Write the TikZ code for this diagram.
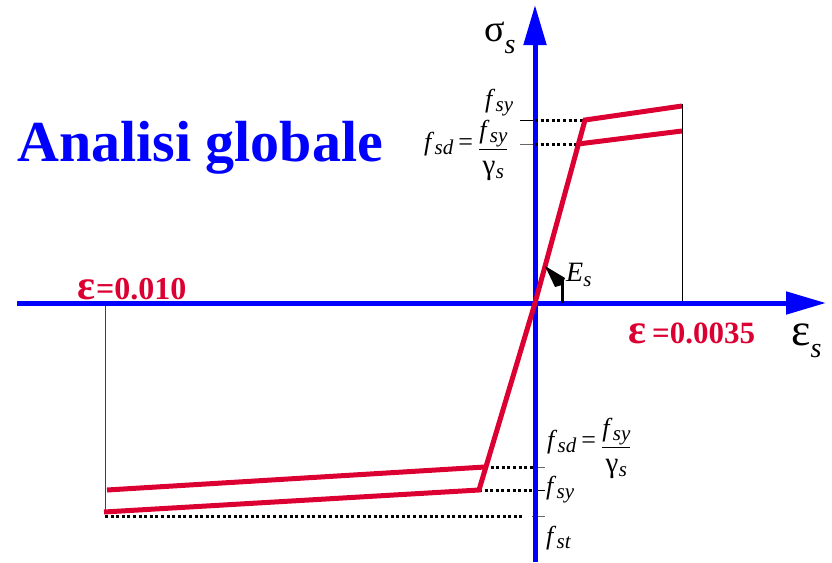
\documentclass[tikz,border=0pt]{standalone}
\usepackage{fontspec}
\setmainfont{Liberation Serif}
\usetikzlibrary{arrows.meta}
\definecolor{cred}{RGB}{220,0,50}
\definecolor{cblue}{RGB}{0,0,255}
\newcommand{\subsz}{\fontsize{21}{21}\selectfont}
\newcommand{\ff}[1]{\mbox{\textit{f}\kern0.3pt\raisebox{-4.5pt}{\subsz\textit{#1}}}}
\newcommand{\gam}{\mbox{\rule{0pt}{24pt}{\fontsize{29}{29}\selectfont γ}\kern0.3pt\raisebox{-4.5pt}{\subsz\textit{s}}}}
\newcommand{\feq}{\ff{sd}\kern5pt=\kern5pt\raisebox{-5pt}{$\displaystyle\frac{\ff{sy}}{\gam}$}}
\begin{document}
\begin{tikzpicture}[x=1pt,y=-1pt,
  axis/.style={cblue, line width=5pt, -{Triangle[length=40pt,width=22pt]}},
  redl/.style={cred, line width=5pt, line join=miter},
  thinl/.style={black, line width=0.9pt},
  dotl/.style={black, line width=3pt, dash pattern=on 3pt off 2.6pt},
  lab/.style={inner sep=0pt, anchor=base west, font=\fontsize{26}{28}\selectfont},
  redlab/.style={inner sep=0pt, anchor=base west, text=cred, font=\bfseries}]
\useasboundingbox (0,0) rectangle (832,562);
% coordinates
\coordinate (O) at (535,303);
\coordinate (xL) at (17,303);
\coordinate (xR) at (826,303);
\coordinate (yB) at (535,562);
\coordinate (yT) at (535,5);
\coordinate (kU1) at (585,120);
\coordinate (eU1) at (682,106);
\coordinate (kU2) at (578,144);
\coordinate (eU2) at (682,131);
\coordinate (kL1) at (485,467);
\coordinate (eL1) at (107,490);
\coordinate (kL2) at (479,490);
\coordinate (eL2) at (104,512);
\coordinate (aU1) at (535,120);
\coordinate (aU2) at (535,144);
\coordinate (aL1) at (535,467);
\coordinate (aL2) at (535,490);
\coordinate (tU1) at (520,120);
\coordinate (tU2) at (520,144);
\coordinate (tL1) at (545,467);
\coordinate (tL2) at (545,490);
\coordinate (tL3a) at (532,516);
\coordinate (tL3) at (545,516);
\coordinate (dL3a) at (105,516);
\coordinate (dL3b) at (523,516);
\coordinate (vR) at (682,104);
\coordinate (vRb) at (682,303);
\coordinate (vL) at (105,303);
\coordinate (vLb) at (105,512);
\coordinate (Ea) at (562,303);
\coordinate (Em) at (562,280);
\coordinate (Eb) at (545,266);
\coordinate (Eh1) at (565,278);
\coordinate (Eh2) at (562,285);
\coordinate (Eh3) at (555,287);
% thin guide lines
\draw[thinl] (vR) -- (vRb);
\draw[thinl, black!75] (vL) -- (vLb);
\draw[thinl] (tU1) -- (aU1);
\draw[thinl, black!60] (tU2) -- (aU2);
\draw[thinl, black!60] (aL1) -- (tL1);
\draw[thinl] (aL2) -- (tL2);
\draw[thinl, black!60] (tL3a) -- (tL3);
% axes
\draw[axis] (xL) -- (xR);
\draw[axis] (yB) -- (yT);
% dotted
\draw[dotl] (aU1) -- (kU1);
\draw[dotl] (aU2) -- (kU2);
\draw[dotl] (kL1) -- (aL1);
\draw[dotl] (kL2) -- (aL2);
\draw[dotl] (dL3a) -- (dL3b);
% red curves
\draw[redl] (eL2) -- (kL2) -- (O) -- (kU1) -- (eU1);
\draw[redl] (eL1) -- (kL1);
\draw[redl] (kU2) -- (eU2);
% E_s arrow
\draw[line width=3pt] (Ea) -- (Em);
\fill[black] (Eb) -- (Eh1) -- (Eh2) -- (Eh3) -- cycle;
% labels
\node[inner sep=0pt, anchor=base west, text=cblue, font=\fontsize{58}{60}\selectfont\bfseries] (title) at (17,161) {Analisi globale};
\node[inner sep=0pt, anchor=base west] (sig) at (484,41) {\fontsize{38}{40}\selectfont σ\raisebox{-13pt}{\fontsize{28}{28}\selectfont\textit{s}}};
\node[inner sep=0pt, anchor=base west] (epss) at (791,345) {\fontsize{46}{48}\selectfont ε\raisebox{-12pt}{\fontsize{28}{28}\selectfont\textit{s}}};
\node[redlab] (e35) at (628,343) {\fontsize{42}{44}\selectfont ε\kern6pt\fontsize{31}{33}\selectfont =0.0035};
\node[redlab] (e10) at (77,299) {\fontsize{42}{44}\selectfont ε\kern1pt\fontsize{32}{34}\selectfont =0.010};
\node[lab] (Es) at (566,281) {\fontsize{28}{30}\selectfont\textit{E}\raisebox{-5pt}{\subsz\textit{s}}};
\node[lab] (fsyU) at (485,107) {\ff{sy}};
\node[lab] (fsdU) at (424,150) {\feq};
\node[lab] (fsdL) at (547,448) {\feq};
\node[lab] (fsyL) at (546,494) {\ff{sy}};
\node[lab] (fstL) at (546,544) {\ff{st}};
\end{tikzpicture}
\end{document}
